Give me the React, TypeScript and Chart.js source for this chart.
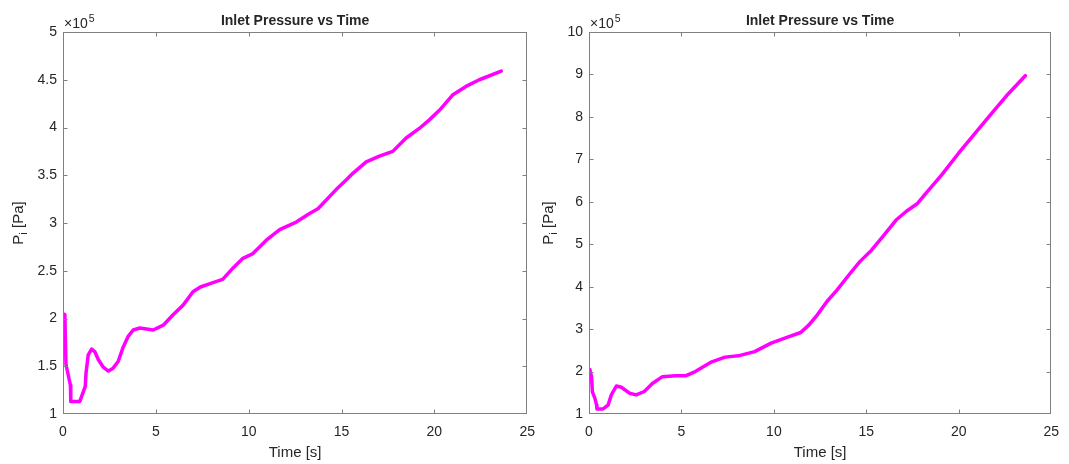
import React, { useEffect, useRef } from "react";
import { Chart, registerables } from "chart.js";

Chart.register(...registerables);

const FONT = '"Liberation Sans", Arial, Helvetica, sans-serif';
const TEXT = "#262626";
const AXIS = "#808080";
const LINE = "#ff00ff";

const titleText = "Inlet Pressure vs Time";
const xLabel = "Time [s]";
const yLabelMain = "P";
const yLabelSub = "i";
const yLabelUnit = " [Pa]";
const exponentBase = "\u00d710";
const exponentPower = "5";

const xTicks = [0, 5, 10, 15, 20, 25];
const leftYTicks = [1, 1.5, 2, 2.5, 3, 3.5, 4, 4.5, 5];
const rightYTicks = [1, 2, 3, 4, 5, 6, 7, 8, 9, 10];

// time [s]
const timeLeft = [
  0, 0.1, 0.16, 0.4, 0.42, 0.9, 1.2, 1.24, 1.36, 1.54, 1.72, 1.9, 2.17, 2.44,
  2.7, 2.97, 3.24, 3.5, 3.78, 4.14, 4.86, 5.4, 5.93, 6.47, 7.0, 7.4, 8.0, 8.6,
  9.16, 9.69, 10.23, 10.95, 11.67, 12.56, 13.28, 13.73, 14.18, 14.71, 15.25,
  15.61, 16.33, 17.04, 17.76, 18.48, 19.19, 19.73, 20.27, 20.98, 21.7, 22.42,
  23.6,
];
// inlet pressure [x10^5 Pa]
const pressureLeft = [
  2.05, 2.04, 1.52, 1.3, 1.13, 1.13, 1.29, 1.43, 1.62, 1.68, 1.65, 1.57, 1.49,
  1.45, 1.48, 1.55, 1.7, 1.81, 1.88, 1.9, 1.88, 1.93, 2.04, 2.14, 2.28, 2.33,
  2.37, 2.41, 2.53, 2.63, 2.68, 2.82, 2.93, 3.01, 3.1, 3.15, 3.24, 3.35, 3.45,
  3.52, 3.64, 3.7, 3.75, 3.89, 3.99, 4.08, 4.18, 4.34, 4.43, 4.5, 4.59,
];

const timeRight = [
  0, 0.05, 0.14, 0.18, 0.32, 0.41, 0.43, 0.76, 1.03, 1.21, 1.48, 1.75, 2.19,
  2.55, 2.99, 3.43, 3.97, 4.68, 5.22, 5.75, 6.64, 7.36, 8.07, 8.96, 9.85,
  10.74, 11.45, 11.9, 12.34, 12.87, 13.41, 14.12, 14.65, 15.28, 15.81, 16.61,
  17.15, 17.77, 18.22, 19.11, 20.0, 20.89, 21.78, 22.67, 23.6,
];
const pressureRight = [
  2.05, 2.04, 1.88, 1.53, 1.37, 1.21, 1.12, 1.12, 1.21, 1.45, 1.66, 1.63, 1.49,
  1.45, 1.53, 1.72, 1.88, 1.9, 1.9, 2.0, 2.23, 2.34, 2.37, 2.47, 2.67, 2.81,
  2.92, 3.1, 3.33, 3.65, 3.92, 4.31, 4.59, 4.86, 5.14, 5.57, 5.77, 5.96, 6.2,
  6.65, 7.15, 7.62, 8.08, 8.54, 8.97,
];

const H = 464;

function makeFramePlugin(yLabelBaselineX: number) {
  return {
    id: "matlabFrame",
    afterDraw(chart: any) {
      const ctx = chart.ctx as CanvasRenderingContext2D;
      const { left, right, top, bottom } = chart.chartArea;
      const xs = chart.scales.x;
      const ys = chart.scales.y;
      ctx.save();
      ctx.strokeStyle = AXIS;
      ctx.lineWidth = 1;
      const L = Math.round(left) + 0.5;
      const R = Math.round(right) - 0.5;
      const T = Math.round(top) + 0.5;
      const B = Math.round(bottom) - 0.5;
      ctx.strokeRect(L, T, R - L, B - T);
      const tl = 4;
      const clamp = (v: number, a: number, b: number) => Math.min(Math.max(v, a), b);
      ctx.beginPath();
      xs.ticks.forEach((t: any) => {
        const px = clamp(Math.round(xs.getPixelForValue(t.value)) + 0.5, L, R);
        ctx.moveTo(px, B);
        ctx.lineTo(px, B - tl);
        ctx.moveTo(px, T);
        ctx.lineTo(px, T + tl);
      });
      ys.ticks.forEach((t: any) => {
        const py = clamp(Math.round(ys.getPixelForValue(t.value)) + 0.5, T, B);
        ctx.moveTo(L, py);
        ctx.lineTo(L + tl, py);
        ctx.moveTo(R, py);
        ctx.lineTo(R - tl, py);
      });
      ctx.stroke();

      ctx.fillStyle = TEXT;
      ctx.font = `bold 14px ${FONT}`;
      ctx.textAlign = "center";
      ctx.textBaseline = "alphabetic";
      ctx.fillText(titleText, (left + right) / 2, 25);

      ctx.textAlign = "left";
      ctx.font = `14px ${FONT}`;
      ctx.fillText(exponentBase, left + 1, 27.5);
      const wb = ctx.measureText(exponentBase).width;
      ctx.font = `10.5px ${FONT}`;
      ctx.fillText(exponentPower, left + 1 + wb + 1, 21.5);

      ctx.font = `15px ${FONT}`;
      ctx.textAlign = "center";
      ctx.fillText(xLabel, (left + right) / 2, 457);

      ctx.save();
      ctx.translate(yLabelBaselineX, (top + bottom) / 2);
      ctx.rotate(-Math.PI / 2);
      ctx.textAlign = "left";
      ctx.font = `15px ${FONT}`;
      const wP = ctx.measureText(yLabelMain).width;
      const wU = ctx.measureText(yLabelUnit).width;
      ctx.font = `11px ${FONT}`;
      const wI = ctx.measureText(yLabelSub).width;
      let x = -(wP + wI + wU) / 2;
      ctx.font = `15px ${FONT}`;
      ctx.fillText(yLabelMain, x, 0);
      x += wP;
      ctx.font = `11px ${FONT}`;
      ctx.fillText(yLabelSub, x, 4);
      x += wI;
      ctx.font = `15px ${FONT}`;
      ctx.fillText(yLabelUnit, x, 0);
      ctx.restore();

      ctx.restore();
    },
  };
}

type Props = {
  times: number[];
  values: number[];
  yTicks: number[];
  left: number;
  width: number;
  axisWidth: number;
  padRight: number;
  yLabelX: number;
};

function PressureChart(p: Props) {
  const ref = useRef<HTMLCanvasElement>(null);
  useEffect(() => {
    if (!ref.current) return;
    const yMin = p.yTicks[0];
    const yMax = p.yTicks[p.yTicks.length - 1];
    const tickFont = { size: 14, family: FONT };
    const chart = new Chart(ref.current, {
      type: "line",
      data: {
        datasets: [
          {
            data: p.times.map((t, i) => ({ x: t, y: p.values[i] })),
            borderColor: LINE,
            borderWidth: 3.5,
            pointRadius: 0,
            tension: 0,
            fill: false,
            borderJoinStyle: "round",
            borderCapStyle: "round",
          },
        ],
      },
      options: {
        animation: false,
        responsive: false,
        events: [],
        layout: { padding: { left: 0, right: p.padRight, top: 32, bottom: 0 } },
        plugins: {
          legend: { display: false },
          title: { display: false },
          tooltip: { enabled: false },
        },
        scales: {
          x: {
            type: "linear",
            min: xTicks[0],
            max: xTicks[xTicks.length - 1],
            afterBuildTicks: (s: any) => {
              s.ticks = xTicks.map((v) => ({ value: v }));
            },
            afterFit: (s: any) => {
              s.height = H - 414;
            },
            grid: { display: false, drawTicks: false, tickLength: 0 },
            border: { display: false },
            ticks: {
              font: tickFont,
              color: TEXT,
              padding: 10,
              maxRotation: 0,
              autoSkip: false,
              callback: (v: any) => String(v),
            },
          },
          y: {
            type: "linear",
            min: yMin,
            max: yMax,
            afterBuildTicks: (s: any) => {
              s.ticks = p.yTicks.map((v) => ({ value: v }));
            },
            afterFit: (s: any) => {
              s.width = p.axisWidth;
            },
            grid: { display: false, drawTicks: false, tickLength: 0 },
            border: { display: false },
            ticks: {
              font: tickFont,
              color: TEXT,
              padding: 6,
              autoSkip: false,
              callback: (v: any) => String(v),
            },
          },
        },
      },
      plugins: [makeFramePlugin(p.yLabelX)],
    } as any);
    return () => chart.destroy();
  }, []);
  return (
    <canvas
      ref={ref}
      width={p.width}
      height={H}
      style={{ position: "absolute", left: p.left, top: 0, width: p.width, height: H, display: "block" }}
    />
  );
}

export default function App() {
  return (
    <div style={{ position: "absolute", left: 0, top: 0, width: 1069, height: H, background: "#fff", overflow: "hidden" }}>
      <PressureChart
        times={timeLeft}
        values={pressureLeft}
        yTicks={leftYTicks}
        left={0}
        width={545}
        axisWidth={63}
        padRight={17}
        yLabelX={23}
      />
      <PressureChart
        times={timeRight}
        values={pressureRight}
        yTicks={rightYTicks}
        left={534}
        width={535}
        axisWidth={55}
        padRight={12}
        yLabelX={19}
      />
    </div>
  );
}
